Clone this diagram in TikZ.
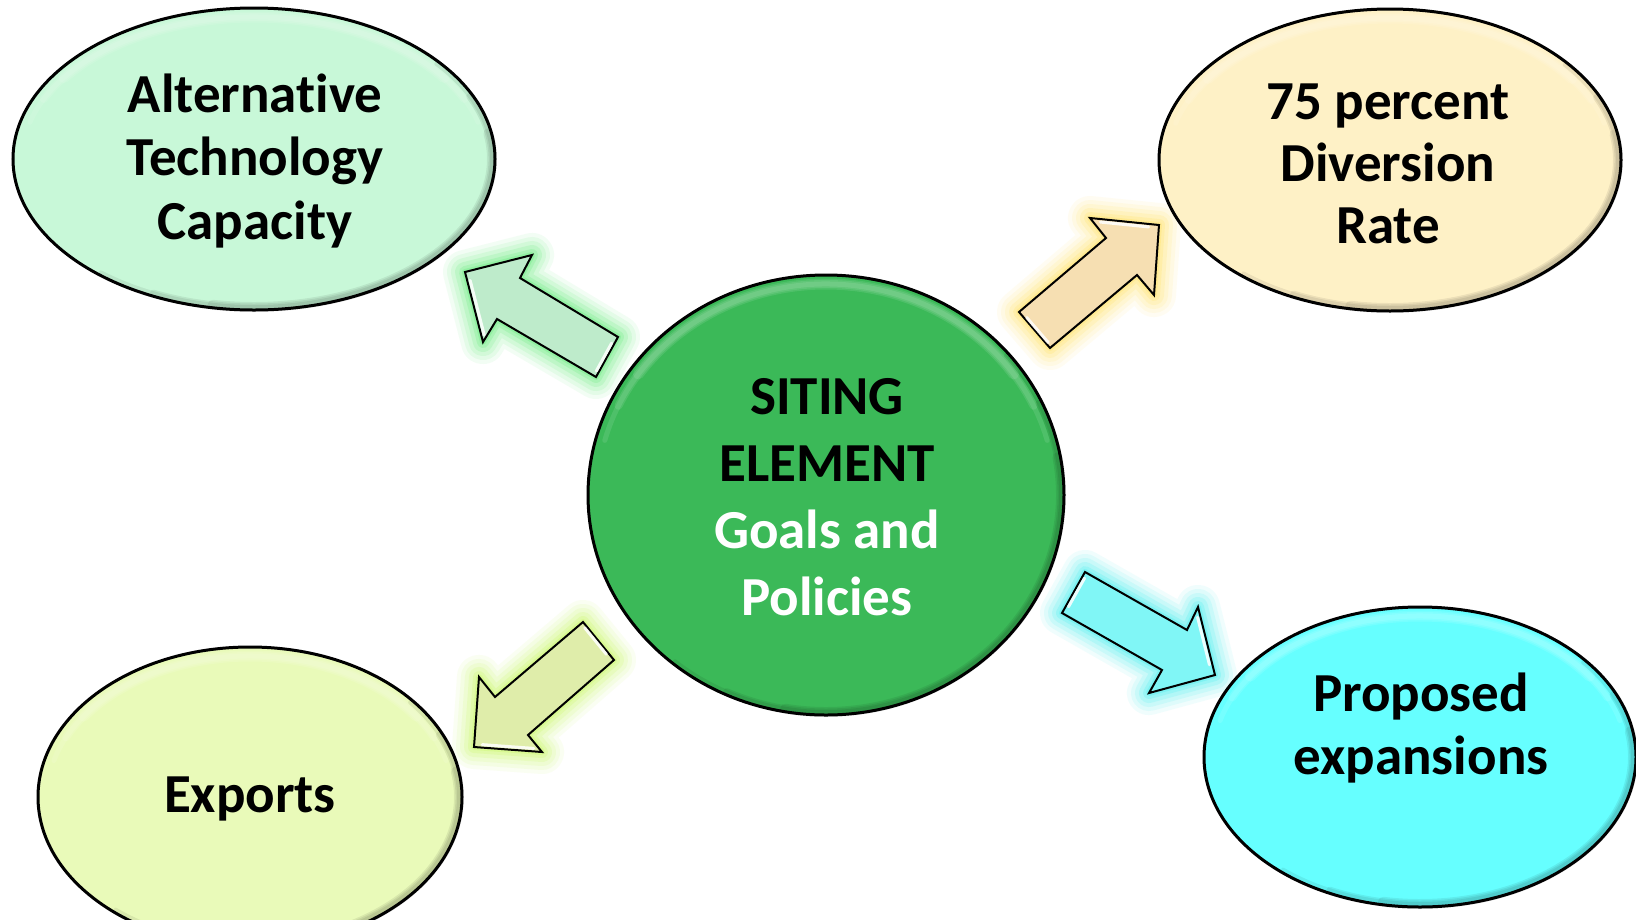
\documentclass[tikz,border=0pt]{standalone}
\usepackage{fontspec}
\setmainfont{Carlito}[Ligatures=NoCommon]
\usetikzlibrary{shapes.geometric,calc}
\definecolor{ellA}{HTML}{C8F8D8}
\definecolor{ellB}{HTML}{FEF1C6}
\definecolor{ellC}{HTML}{E9FAB9}
\definecolor{ellD}{HTML}{66FFFF}
\definecolor{ellM}{HTML}{3BB958}
\definecolor{arrA}{HTML}{BEEBCB}
\definecolor{arrB}{HTML}{F6DFB2}
\definecolor{arrC}{HTML}{DFEDAA}
\definecolor{arrD}{HTML}{80F6F6}
\definecolor{glA}{HTML}{60EC78}
\definecolor{glB}{HTML}{FFE460}
\definecolor{glC}{HTML}{C8F860}
\definecolor{glD}{HTML}{40EEEE}
\newcommand\bevelell[4]{%
  \foreach \k/\o in {0/0.10, 1/0.10, 2/0.10}
  \draw[white, opacity=\o, line width=5+3*\k, line cap=round] (#1,#2) ++(195+10*\k:{#3-9} and {#4-9}) arc[start angle=195+10*\k, end angle=345-10*\k, x radius={#3-9}, y radius={#4-9}];
  \foreach \k in {0,1,2}
  \draw[black, opacity=0.07, line width=4+3*\k, line cap=round] (#1,#2) ++(-40+15*\k:{#3-3} and {#4-3}) arc[start angle=-40+15*\k, end angle=130-15*\k, x radius={#3-3}, y radius={#4-3}];
}
\newcommand\glowpath[2]{%
  \foreach \w/\o in {44/0.08, 36/0.10, 28/0.13, 20/0.17, 12/0.22, 6/0.3}
    \draw[line width=\w, draw=#1, opacity=\o, line join=round] #2;
}
\tikzset{
  bubble/.style={ellipse, draw=black, line width=3, inner sep=0},
  lbl/.style={align=center, anchor=base, font=\bfseries\fontsize{55}{64}\selectfont},
  blockarrow/.style={draw=black, line width=2, line join=miter},
  arrowshine/.style={draw=white, line width=3, opacity=0.85, line cap=round},
}
\begin{document}
\begin{tikzpicture}[x=1pt,y=-1pt]
\useasboundingbox (0,0) rectangle (1636,919);
\fill[white] (0,0) rectangle (1636,919);

% ---- arrow coordinates
\coordinate (a1) at (465,272); \coordinate (a2) at (532,255); \coordinate (a3) at (520,278);
\coordinate (a4) at (618,337); \coordinate (a5) at (596,377); \coordinate (a6) at (497,319);
\coordinate (a7) at (483,342);
\coordinate (b1) at (1159,225); \coordinate (b2) at (1154,295); \coordinate (b3) at (1137,275);
\coordinate (b4) at (1050,348); \coordinate (b5) at (1019,312); \coordinate (b6) at (1106,238);
\coordinate (b7) at (1090,218);
\coordinate (c1) at (474,747); \coordinate (c2) at (479,677); \coordinate (c3) at (495,697);
\coordinate (c4) at (583,622); \coordinate (c5) at (614,660); \coordinate (c6) at (528,735);
\coordinate (c7) at (542,752);
\coordinate (d1) at (1215,675); \coordinate (d2) at (1149,693); \coordinate (d3) at (1162,670);
\coordinate (d4) at (1062,613); \coordinate (d5) at (1085,572); \coordinate (d6) at (1187,630);
\coordinate (d7) at (1198,607);

% ---- glows
\glowpath{glA}{(a1)--(a2)--(a3)--(a4)--(a5)--(a6)--(a7)--cycle}
\glowpath{glB}{(b1)--(b2)--(b3)--(b4)--(b5)--(b6)--(b7)--cycle}
\glowpath{glC}{(c1)--(c2)--(c3)--(c4)--(c5)--(c6)--(c7)--cycle}
\glowpath{glD}{(d1)--(d2)--(d3)--(d4)--(d5)--(d6)--(d7)--cycle}

% ---- bubbles
\node[bubble, fill=ellA, minimum width=482, minimum height=302] (A) at (254,159) {};
\node[bubble, fill=ellB, minimum width=462, minimum height=302] (B) at (1390,160) {};
\node[bubble, fill=ellC, minimum width=424, minimum height=300] (C) at (250,797) {};
\node[bubble, fill=ellD, minimum width=432, minimum height=300] (D) at (1420,757) {};
\node[bubble, fill=ellM, minimum width=476, minimum height=440] (M) at (826,495) {};
\bevelell{254}{159}{241}{151}
\bevelell{1390}{160}{231}{151}
\bevelell{250}{797}{212}{150}
\bevelell{1420}{757}{216}{150}
\bevelell{826}{495}{238}{220}

% ---- block arrows
\draw[blockarrow, fill=arrA] (a1)--(a2)--(a3)--(a4)--(a5)--(a6)--(a7)--cycle;
\draw[blockarrow, fill=arrB] (b1)--(b2)--(b3)--(b4)--(b5)--(b6)--(b7)--cycle;
\draw[blockarrow, fill=arrC] (c1)--(c2)--(c3)--(c4)--(c5)--(c6)--(c7)--cycle;
\draw[blockarrow, fill=arrD] (d1)--(d2)--(d3)--(d4)--(d5)--(d6)--(d7)--cycle;
% bevel highlights
\draw[arrowshine] ($(a1)!0.12!(a7)+(3,0)$) -- ($(a1)!0.9!(a7)+(3,0)$);
\draw[arrowshine] ($(a4)!0.15!(a5)+(-3,0)$) -- ($(a4)!0.85!(a5)+(-3,0)$);
\draw[arrowshine] ($(b7)!0.15!(b1)+(0,3)$) -- ($(b7)!0.85!(b1)+(0,3)$);
\draw[arrowshine] ($(b5)!0.15!(b4)+(3,0)$) -- ($(b5)!0.85!(b4)+(3,0)$);
\draw[arrowshine] ($(c1)!0.12!(c7)+(0,-3)$) -- ($(c1)!0.88!(c7)+(0,-3)$);
\draw[arrowshine] ($(c4)!0.15!(c5)+(-3,0)$) -- ($(c4)!0.85!(c5)+(-3,0)$);
\draw[arrowshine] ($(d7)!0.15!(d1)+(-3,0)$) -- ($(d7)!0.85!(d1)+(-3,0)$);
\draw[arrowshine] ($(d5)!0.15!(d4)+(3,0)$) -- ($(d5)!0.85!(d4)+(3,0)$);

% ---- labels (base anchor = baseline of last line)
\node[lbl, font=\bfseries\fontsize{55}{63.5}\selectfont] (tA) at (255,239) {Alternat\kern0pt ive\\Technology\\Capacity};
\node[lbl, font=\bfseries\fontsize{55}{62}\selectfont] (tB) at (1388,243) {75 percent\\Diversion\\Rate};
\node[lbl] (tC) at (250,812) {Exports};
\node[lbl, font=\bfseries\fontsize{55}{63}\selectfont] (tD) at (1421,774) {Proposed\\expansions};
\node[lbl, font=\bfseries\fontsize{55}{66.7}\selectfont] (tM) at (827,615) {SITING\\ELEMENT\\\textcolor{white}{Goals and}\\\textcolor{white}{Policies}};
\end{tikzpicture}
\end{document}
